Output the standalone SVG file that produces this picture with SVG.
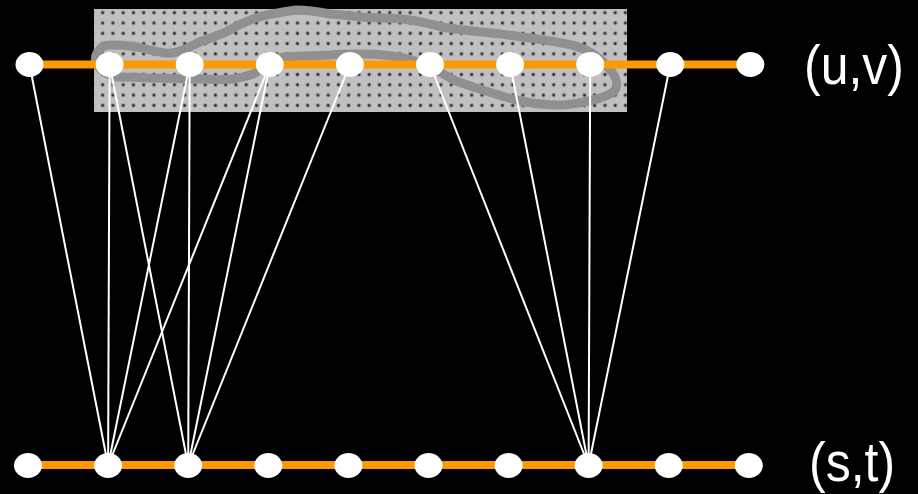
<svg xmlns="http://www.w3.org/2000/svg" width="918" height="494" viewBox="0 0 918 494">
<style>
.bg{fill:#000}
.axis{stroke:#ff9900;stroke-width:8;fill:none}
.edge{stroke:#fff;stroke-width:2;fill:none}
.node{fill:#fff}
.lbl{fill:#fff;font-family:"Liberation Sans",Arial,sans-serif;font-size:50px}
.blob{fill:none;stroke:#909090;stroke-width:9;stroke-linejoin:round;stroke-linecap:round}
</style>
<defs>
<pattern id="dots" patternUnits="userSpaceOnUse" x="0" y="0" width="10" height="10" patternTransform="translate(97.575,7.55) scale(1.025,1.03)">
<rect width="10" height="10" fill="#c0c0c0"/>
<circle cx="5" cy="5" r="2" fill="#8a8a8a"/>
<circle cx="5" cy="5" r="1.2" fill="#222"/>
</pattern>
</defs>
<rect class="bg" x="0" y="0" width="918" height="494"/>
<g id="region">
<rect x="94" y="9" width="533" height="103" fill="url(#dots)"/>
<path class="blob" d="M97,53 C100,47 104,45 110,45 C125,45 140,47 150,50 C160,52 166,54 172,53 C185,51 192,45 202,41 C212,38 218,35 226,32 C235,27 240,24 248,21 C258,17 264,15 272,14 C282,12 288,11 296,10 C310,10 320,12 330,14 C345,15 352,16 362,17 C380,18 390,18 402,19 C420,21 430,24 442,27 C460,30 470,31 482,32 C500,34 510,35 522,37 C540,39 550,41 562,43 C575,45 582,48 588,51 C598,56 606,64 612,72 C619,82 618,90 610,94 C600,99 595,100 588,101 C575,104 568,105 560,105 C548,105 540,104 532,103 C520,101 512,99 505,97 C490,92 482,90 473,87 C465,84 458,82 452,79 C445,75 440,72 432,68 C420,62 412,60 403,58 C390,55 375,54 363,54 C350,54 340,54 330,55 C310,56 295,56 283,57 C272,60 262,70 253,74 C245,77 240,78 233,79 C220,80 210,79 200,79 C180,79 165,78 150,78 C135,77 125,77 117,77 C105,75 98,68 96,62 C95,58 95,56 97,53 Z"/>
</g>
<g id="axes">
<line class="axis" x1="29.5" y1="64.5" x2="750.4" y2="64.5"/>
<line class="axis" x1="28" y1="465" x2="748.9" y2="465"/>
</g>
<g id="connectors">
<line class="edge" x1="29.5" y1="64.5" x2="108.1" y2="465.5"/>
<line class="edge" x1="109.6" y1="64.5" x2="108.1" y2="465.5" stroke-width="2.5"/>
<line class="edge" x1="109.6" y1="64.5" x2="188.2" y2="465.5"/>
<line class="edge" x1="189.7" y1="64.5" x2="108.1" y2="465.5"/>
<line class="edge" x1="189.7" y1="64.5" x2="188.2" y2="465.5" stroke-width="2.5"/>
<line class="edge" x1="269.8" y1="64.5" x2="108.1" y2="465.5"/>
<line class="edge" x1="269.8" y1="64.5" x2="188.2" y2="465.5"/>
<line class="edge" x1="349.9" y1="64.5" x2="188.2" y2="465.5"/>
<line class="edge" x1="430" y1="64.5" x2="588.6" y2="465.5"/>
<line class="edge" x1="510.1" y1="64.5" x2="588.6" y2="465.5"/>
<line class="edge" x1="590.2" y1="64.5" x2="588.6" y2="465.5" stroke-width="2.5"/>
<line class="edge" x1="670.3" y1="64.5" x2="588.6" y2="465.5"/>
</g>
<g id="top-nodes">
<ellipse id="u0" class="node" cx="29.5" cy="64.5" rx="14" ry="12.5"/>
<ellipse id="u1" class="node" cx="109.6" cy="64.5" rx="14" ry="12.5"/>
<ellipse id="u2" class="node" cx="189.7" cy="64.5" rx="14" ry="12.5"/>
<ellipse id="u3" class="node" cx="269.8" cy="64.5" rx="14" ry="12.5"/>
<ellipse id="u4" class="node" cx="349.9" cy="64.5" rx="14" ry="12.5"/>
<ellipse id="u5" class="node" cx="430" cy="64.5" rx="14" ry="12.5"/>
<ellipse id="u6" class="node" cx="510.1" cy="64.5" rx="14" ry="12.5"/>
<ellipse id="u7" class="node" cx="590.2" cy="64.5" rx="14" ry="12.5"/>
<ellipse id="u8" class="node" cx="670.3" cy="64.5" rx="14" ry="12.5"/>
<ellipse id="u9" class="node" cx="750.4" cy="64.5" rx="14" ry="12.5"/>
</g>
<g id="bottom-nodes">
<ellipse id="s0" class="node" cx="28" cy="465.5" rx="14" ry="12.5"/>
<ellipse id="s1" class="node" cx="108.1" cy="465.5" rx="14" ry="12.5"/>
<ellipse id="s2" class="node" cx="188.2" cy="465.5" rx="14" ry="12.5"/>
<ellipse id="s3" class="node" cx="268.3" cy="465.5" rx="14" ry="12.5"/>
<ellipse id="s4" class="node" cx="348.4" cy="465.5" rx="14" ry="12.5"/>
<ellipse id="s5" class="node" cx="428.5" cy="465.5" rx="14" ry="12.5"/>
<ellipse id="s6" class="node" cx="508.6" cy="465.5" rx="14" ry="12.5"/>
<ellipse id="s7" class="node" cx="588.6" cy="465.5" rx="14" ry="12.5"/>
<ellipse id="s8" class="node" cx="668.7" cy="465.5" rx="14" ry="12.5"/>
<ellipse id="s9" class="node" cx="748.8" cy="465.5" rx="14" ry="12.5"/>
</g>
<g id="labels">
<text class="lbl" transform="translate(804,84) scale(1,1.12)">(u,v)</text>
<text class="lbl" transform="translate(809,481) scale(1,1.1)">(s,t)</text>
</g>
</svg>
